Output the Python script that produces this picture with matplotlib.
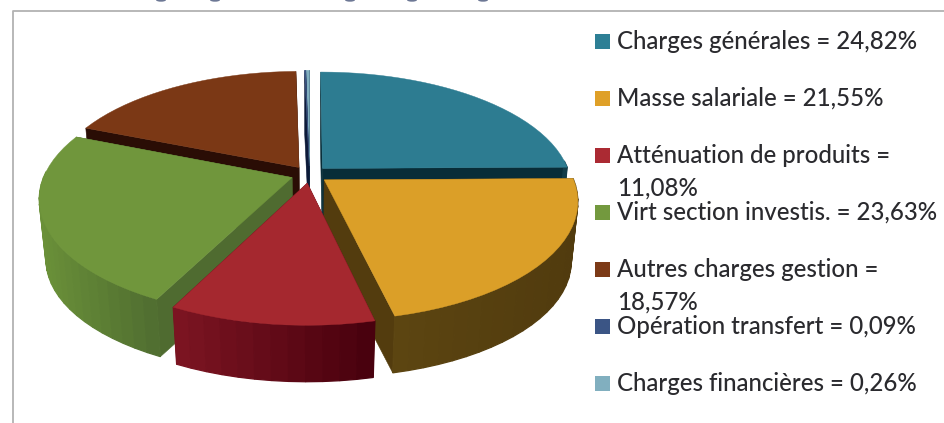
import numpy as np
import matplotlib
matplotlib.use("Agg")
import matplotlib.pyplot as plt
from matplotlib.patches import Polygon, Rectangle, Ellipse
from matplotlib.colors import to_rgb

labels = ["Charges générales = 24,82%", "Masse salariale = 21,55%",
          "Atténuation de produits =\n11,08%", "Virt section investis. = 23,63%",
          "Autres charges gestion =\n18,57%", "Opération transfert = 0,09%",
          "Charges financières = 0,26%"]
shares = [24.82, 21.55, 11.08, 23.63, 18.57, 0.09, 0.26]
top_colors = ["#2d7c91", "#db9f28", "#a5282f", "#70963c", "#7b3815", "#3b5585", "#81afbf"]
cut_colors = ["#082d38", "#533c0e", "#5c0a16", "#4f6b30", "#2a0d05", "#0c1a38", "#2c5364"]
rim_left = ["#1d5263", "#5c4511", "#7d1522", "#6b9139", "#5a2a10", "#2b3f66", "#5d8796"]
rim_right = ["#123c49", "#513b0e", "#47000d", "#4f6d30", "#3d1a08", "#1b2b4a", "#3d6170"]
legend_colors = ["#2d7f95", "#dfa028", "#ab2a33", "#73993e", "#7c3a17", "#3b5585", "#81afbf"]
draw_order = [4, 6, 5, 0, 1, 3, 2]

CX, CY = 309.5, 174.5
W, A, K = 247.5, 114.7, 0.17
EXPLODE = 0.075
BW, BA, BDY = 0.975, 0.97, 61
TEXT = dict(fontsize=17.25, family="Lato", weight="medium", color="#2a2a2e", va="baseline")


def top(x, y):
    d = 1 + K * y
    return np.column_stack([CX + W * x / d, CY - A * y / d])


def bottom(x, y):
    d = 1 + K * y
    return np.column_stack([CX + BW * W * x / d, CY + BDY - BA * A * y / d])


fig = plt.figure(figsize=(9.45, 4.23), dpi=100)
ax = fig.add_axes([0, 0, 1, 1])
ax.set_xlim(0, 945)
ax.set_ylim(423, 0)
ax.axis("off")

# frame of the chart
ax.plot([13, 13, 945], [423, 11, 11], color="#b2b2b2", lw=1.3, solid_capstyle="butt")

# descenders of the cropped title
for x0 in [161, 215, 350, 412, 483]:
    ax.add_patch(Ellipse((x0, 0), 10, 3.4, color="#6d7895", lw=0))

cum = np.cumsum([0] + shares) / 100
angles = np.pi / 2 - 2 * np.pi * cum
for i in draw_order:
    a0, a1 = angles[i], angles[i + 1]
    mid = (a0 + a1) / 2
    ox, oy = EXPLODE * np.cos(mid), EXPLODE * np.sin(mid)
    n = max(4, int(abs(a1 - a0) / np.radians(3)))
    th = np.linspace(a0, a1, n)
    rx, ry = ox + np.cos(th), oy + np.sin(th)
    t_rim, b_rim = top(rx, ry), bottom(rx, ry)
    t_ap, b_ap = top(np.array([ox]), np.array([oy])), bottom(np.array([ox]), np.array([oy]))
    # cut faces
    for j in (0, -1):
        ax.add_patch(Polygon(np.vstack([t_ap, t_rim[j], b_rim[j], b_ap]),
                             fc=cut_colors[i], ec=cut_colors[i], lw=0.4, zorder=1))
    # outer wall, shaded along the rim from left to right
    c0, c1 = np.array(to_rgb(rim_left[i])), np.array(to_rgb(rim_right[i]))
    xmin, xmax = t_rim[:, 0].min(), t_rim[:, 0].max()
    order = np.argsort(t_rim[:-1, 0])
    for k in order:
        if np.sin((th[k] + th[k + 1]) / 2) > 0.05:
            continue
        f = (0.5 * (t_rim[k, 0] + t_rim[k + 1, 0]) - xmin) / max(xmax - xmin, 1)
        col = c0 + (c1 - c0) * f
        ax.add_patch(Polygon(np.vstack([t_rim[k], t_rim[k + 1], b_rim[k + 1], b_rim[k]]),
                             fc=col, ec=col, lw=0.9, zorder=1))
    ax.add_patch(Polygon(np.vstack([t_ap, t_rim]), fc=top_colors[i], ec=top_colors[i],
                         lw=0.3, zorder=1))

# legend
for i, lab in enumerate(labels):
    y = 34 + 57 * i
    ax.add_patch(Rectangle((595, y), 15, 15, color=legend_colors[i], lw=0))
    first, *rest = lab.split("\n")
    ax.text(617, y + 15, first, **TEXT)
    if rest:
        ax.text(617, y + 48, rest[0], **TEXT)

fig.savefig("out.png", dpi=100)
